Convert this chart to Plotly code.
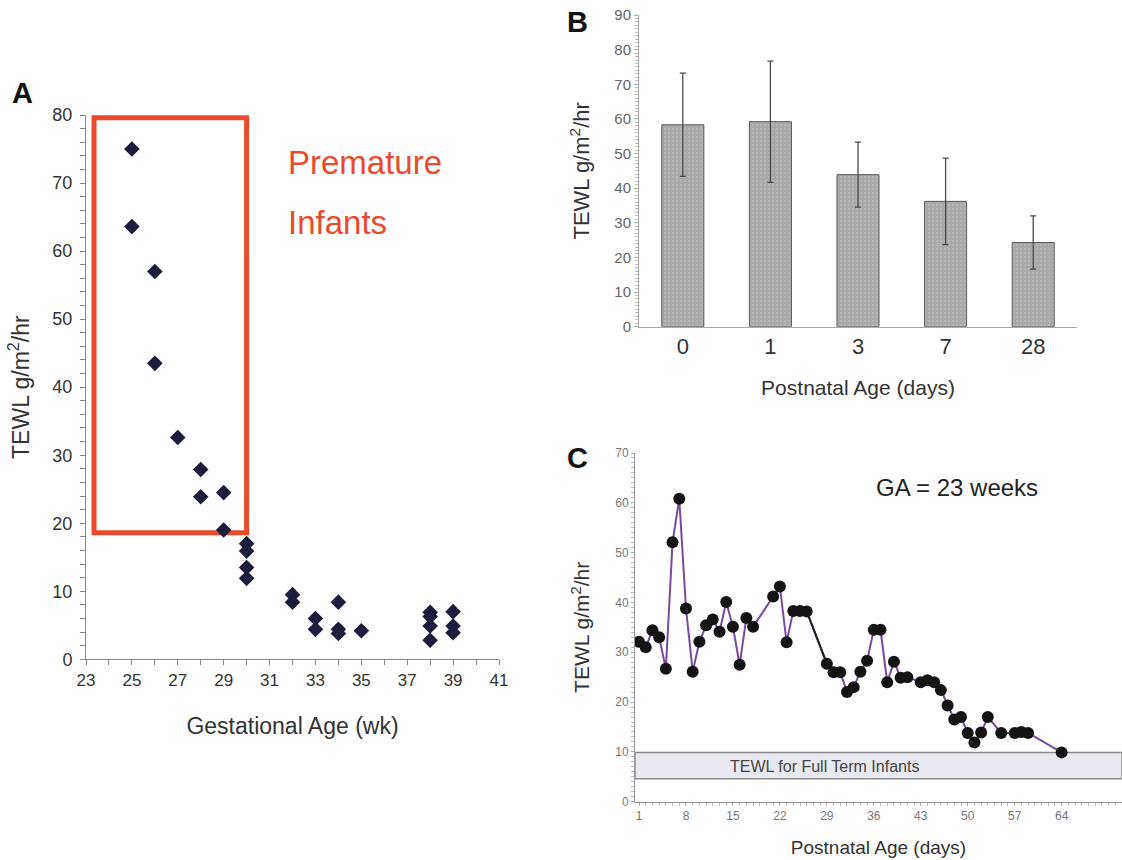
import plotly.graph_objects as go

# ---------------- data ----------------
# Panel A: TEWL vs gestational age
ga_weeks = [25, 25, 26, 26, 27, 28, 28, 29, 29, 30, 30, 30, 30, 32, 32, 33, 33,
            34, 34, 34, 35, 38, 38, 38, 38, 39, 39, 39]
tewl_a = [75.0, 63.6, 57.0, 43.5, 32.6, 27.9, 23.9, 24.5, 19.0, 17.0, 15.9, 13.5,
          11.9, 9.5, 8.4, 6.0, 4.4, 8.4, 4.4, 3.8, 4.2, 6.9, 6.3, 4.9, 2.8, 7.0, 4.9, 3.9]
premature_box = [23.35, 30.0, 18.6, 79.6]  # x0, x1, y0, y1

# Panel B: mean TEWL by postnatal age
postnatal_cats = ["0", "1", "3", "7", "28"]
tewl_b = [58.3, 59.2, 43.9, 36.2, 24.3]
tewl_b_err = [14.9, 17.5, 9.4, 12.5, 7.7]

# Panel C: one infant, GA = 23 weeks
days_c = [1, 2, 3, 4, 5, 6, 7, 8, 9, 10, 11, 12, 13, 14, 15, 16, 17, 18, 21, 22, 23,
          24, 25, 26, 29, 30, 31, 32, 33, 34, 35, 36, 37, 38, 39, 40, 41, 43, 44, 45,
          46, 47, 48, 49, 50, 51, 52, 53, 55, 57, 58, 59, 64]
tewl_c = [32.1, 31.0, 34.4, 33.0, 26.7, 52.1, 60.8, 38.8, 26.1, 32.1, 35.4, 36.6,
          34.1, 40.1, 35.1, 27.5, 36.9, 35.1, 41.2, 43.2, 32.0, 38.3, 38.3, 38.2,
          27.7, 26.0, 26.0, 22.0, 23.0, 26.1, 28.3, 34.5, 34.5, 24.0, 28.1, 24.9,
          25.0, 24.0, 24.4, 24.0, 22.4, 19.3, 16.5, 17.0, 13.8, 11.9, 13.9, 17.0,
          13.8, 13.8, 14.0, 13.8, 9.9]
full_term_band = [4.6, 9.9]
c_xticks = [1, 8, 15, 22, 29, 36, 43, 50, 57, 64]

FONT = "Liberation Sans, Arial, sans-serif"
W, H = 1122, 860


def px_x(p):
    return p / W


def px_y(p):
    return 1 - p / H


fig = go.Figure()

# ---- Panel A ----
fig.add_trace(go.Scatter(
    x=ga_weeks, y=tewl_a, mode="markers", xaxis="x", yaxis="y",
    marker=dict(symbol="diamond", size=12, color="#1c1c3c"),
    showlegend=False, hoverinfo="x+y"))

# ---- Panel B ----
fig.add_trace(go.Bar(
    x=postnatal_cats, y=tewl_b, xaxis="x2", yaxis="y2", width=0.48,
    marker=dict(color="#a8a8a8", line=dict(color="#5a5a5a", width=1),
                pattern=dict(shape=".", fgcolor="#c4c4c4", size=4, solidity=0.3)),
    error_y=dict(type="data", array=tewl_b_err, color="#4a4a4a", thickness=1.3, width=3),
    showlegend=False))

# ---- Panel C ----
fig.add_trace(go.Scatter(
    x=days_c, y=tewl_c, mode="lines", xaxis="x3", yaxis="y3",
    line=dict(color="#7a4a9e", width=2), showlegend=False, hoverinfo="skip"))
i0, i1 = days_c.index(26), days_c.index(29)
fig.add_trace(go.Scatter(
    x=days_c[i0:i1 + 1], y=tewl_c[i0:i1 + 1], mode="lines", xaxis="x3", yaxis="y3",
    line=dict(color="#222222", width=2), showlegend=False, hoverinfo="skip"))
fig.add_trace(go.Scatter(
    x=days_c, y=tewl_c, mode="markers", xaxis="x3", yaxis="y3",
    marker=dict(size=12, color="#141414"), showlegend=False))

axis_common = dict(showgrid=False, zeroline=False, showline=True,
                   ticks="outside", mirror=False, automargin=False)

fig.update_layout(
    width=W, height=H, margin=dict(l=0, r=0, t=0, b=0, pad=0),
    paper_bgcolor="white", plot_bgcolor="white",
    font=dict(family=FONT, color="#333333"),
    # Panel A axes
    xaxis=dict(domain=[px_x(86), px_x(499)], range=[23, 41], anchor="y",
               tickvals=list(range(23, 42, 2)), linecolor="#888888", tickcolor="#888888",
               ticklen=5, tickfont=dict(size=17, color="#333333"),
               minor=dict(dtick=1, tick0=23, ticks="outside", ticklen=5, tickcolor="#888888"),
               title=dict(text="Gestational Age (wk)", font=dict(size=23, color="#333333"),
                          standoff=29),
               **axis_common),
    yaxis=dict(domain=[px_y(659.3), px_y(115)], range=[0, 80], anchor="x",
               dtick=10, linecolor="#888888", tickcolor="#888888", ticklen=5,
               tickfont=dict(size=18, color="#333333"), ticklabelstandoff=4,
               minor=dict(dtick=2, ticks="outside", ticklen=5, tickcolor="#888888"),
               title=dict(text="TEWL g/m<sup>2</sup>/hr", font=dict(size=23, color="#333333"),
                          standoff=16),
               **axis_common),
    # Panel B axes
    xaxis2=dict(domain=[px_x(639), px_x(1077)], range=[-0.5, 4.5], anchor="y2",
                type="category", linecolor="#aaaaaa", ticks="",
                tickfont=dict(size=22, color="#333333"),
                title=dict(text="Postnatal Age (days)", font=dict(size=21, color="#333333"),
                           standoff=22),
                showgrid=False, zeroline=False, showline=True, automargin=False),
    yaxis2=dict(domain=[px_y(326.7), px_y(15)], range=[0, 90], anchor="x2",
                dtick=10, linecolor="#aaaaaa", tickcolor="#aaaaaa", ticklen=4,
                tickfont=dict(size=15, color="#666666"),
                minor=dict(dtick=1, ticks="outside", ticklen=3, tickcolor="#bbbbbb"),
                title=dict(text="TEWL g/m<sup>2</sup>/hr", font=dict(size=22, color="#333333"),
                           standoff=18),
                **axis_common),
    # Panel C axes
    xaxis3=dict(domain=[px_x(635), 1.0], range=[0.4, 73], anchor="y3",
                tickvals=c_xticks, linecolor="#999999", tickcolor="#aaaaaa", ticklen=3,
                tickfont=dict(size=12, color="#777777"),
                minor=dict(dtick=1, tick0=1, ticks="outside", ticklen=3, tickcolor="#bbbbbb"),
                title=dict(text="Postnatal Age (days)", font=dict(size=19, color="#333333"),
                           standoff=18),
                **axis_common),
    yaxis3=dict(domain=[px_y(801.7), px_y(453)], range=[0, 70], anchor="x3",
                dtick=10, linecolor="#999999", tickcolor="#aaaaaa", ticklen=3,
                tickfont=dict(size=12, color="#777777"),
                minor=dict(dtick=1, ticks="outside", ticklen=3, tickcolor="#bbbbbb"),
                title=dict(text="TEWL g/m<sup>2</sup>/hr", font=dict(size=21, color="#333333"),
                           standoff=19),
                **axis_common),
)

# Red box in panel A
fig.add_shape(type="rect", xref="x", yref="y",
              x0=premature_box[0], x1=premature_box[1],
              y0=premature_box[2], y1=premature_box[3],
              line=dict(color="#ea4a2c", width=5), fillcolor="rgba(0,0,0,0)", layer="below")

# Full-term band in panel C
fig.add_shape(type="rect", xref="x3", yref="y3", x0=0.4, x1=73,
              y0=full_term_band[0], y1=full_term_band[1],
              line=dict(color="#8a8a8a", width=1.5), fillcolor="#e9eaf1", layer="below")

annotations = [
    dict(text="Premature", xref="paper", yref="paper", x=px_x(286), y=px_y(163),
         xanchor="left", yanchor="middle", showarrow=False,
         font=dict(size=33, color="#ea4a2c")),
    dict(text="Infants", xref="paper", yref="paper", x=px_x(286), y=px_y(222),
         xanchor="left", yanchor="middle", showarrow=False,
         font=dict(size=33, color="#ea4a2c")),
    dict(text="<b>A</b>", xref="paper", yref="paper", x=px_x(10), y=px_y(93),
         xanchor="left", yanchor="middle", showarrow=False,
         font=dict(size=29, color="#111111")),
    dict(text="<b>B</b>", xref="paper", yref="paper", x=px_x(565), y=px_y(22),
         xanchor="left", yanchor="middle", showarrow=False,
         font=dict(size=29, color="#111111")),
    dict(text="<b>C</b>", xref="paper", yref="paper", x=px_x(565), y=px_y(458),
         xanchor="left", yanchor="middle", showarrow=False,
         font=dict(size=29, color="#111111")),
    dict(text="GA = 23 weeks", xref="paper", yref="paper", x=px_x(957), y=px_y(487),
         xanchor="center", yanchor="middle", showarrow=False,
         font=dict(size=24, color="#222222")),
    dict(text="TEWL for Full Term Infants", xref="x3", yref="y3", x=28.6, y=7.1,
         xanchor="center", yanchor="middle", showarrow=False,
         font=dict(size=16, color="#444444")),
]
fig.update_layout(annotations=annotations)

fig.write_html("out.html",
               post_script="document.documentElement.style.cssText='margin:0;padding:0;overflow:hidden';"
                           "document.body.style.cssText='margin:0;padding:0;overflow:hidden';")
